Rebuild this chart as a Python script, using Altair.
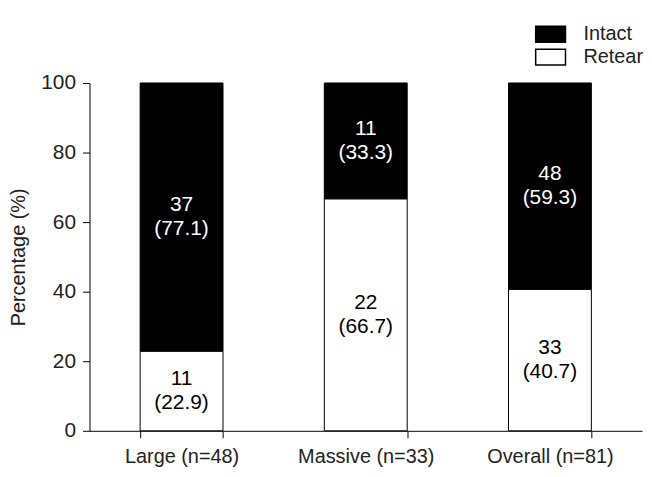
import altair as alt
import pandas as pd

groups = ["Large (n=48)", "Massive (n=33)", "Overall (n=81)"]
intact_n = [37, 11, 48]
intact_pct = [77.1, 33.3, 59.3]
retear_n = [11, 22, 33]
retear_pct = [22.9, 66.7, 40.7]
statuses = ["Intact", "Retear"]

rows = []
for g, n, p in zip(groups, retear_n, retear_pct):
    rows.append({"group": g, "status": "Retear", "order": 0, "n": n, "pct": p})
for g, n, p in zip(groups, intact_n, intact_pct):
    rows.append({"group": g, "status": "Intact", "order": 1, "n": n, "pct": p})
df = pd.DataFrame(rows)
df["label"] = df["n"].astype(str) + "\n(" + df["pct"].map("{:.1f}".format) + ")"

FONT = "Liberation Sans"

base = alt.Chart(df).transform_stack(
    stack="pct", as_=["y0", "y1"], groupby=["group"],
    sort=[alt.SortField("order", order="ascending")]
).transform_calculate(mid="(datum.y0 + datum.y1) / 2")

x_enc = alt.X(
    "group:N", sort=groups, title=None,
    scale=alt.Scale(paddingInner=0.55, paddingOuter=0.275),
    axis=alt.Axis(labelAngle=0, tickBand="extent", tickSize=7, labelFontSize=20,
                  labelPadding=9, domainColor="black", tickColor="black",
                  labelColor="#222", labelFont=FONT),
)

bars = base.mark_bar(stroke="black", strokeWidth=1).encode(
    x=x_enc,
    y=alt.Y("y0:Q", scale=alt.Scale(domain=[0, 100], nice=False),
            axis=alt.Axis(values=[0, 20, 40, 60, 80, 100], tickSize=7, grid=False,
                          labelFontSize=21, labelPadding=7, domainColor="black",
                          tickColor="black", labelColor="#222", labelFont=FONT,
                          title="Percentage (%)", titleFontSize=20,
                          titleFontWeight="normal", titleFont=FONT,
                          titleColor="#222", titlePadding=12)),
    y2="y1:Q",
    fill=alt.Fill("status:N", scale=alt.Scale(domain=statuses, range=["black", "white"]),
                  legend=alt.Legend(title=None, orient="none", legendX=453, legendY=-60,
                                    symbolType="M-1.5,-0.8H1.5V0.8H-1.5Z", symbolSize=400,
                                    symbolStrokeColor="black", symbolStrokeWidth=1.5,
                                    labelFontSize=20, labelFont=FONT, labelColor="#222",
                                    rowPadding=1, labelOffset=22, padding=0)),
)

texts = base.mark_text(fontSize=21, font=FONT, lineBreak="\n", lineHeight=24,
                       baseline="middle", align="center", dy=-12).encode(
    x=alt.X("group:N", sort=groups),
    y=alt.Y("mid:Q"),
    text="label:N",
    color=alt.condition("datum.status == 'Intact'", alt.value("white"), alt.value("black")),
)

chart = (bars + texts).properties(
    width=556, height=350,
    padding={"left": 0, "top": 14, "right": 0, "bottom": 0},
).configure(background="white").configure_view(stroke=None)

chart.save("out.html", embed_options={"renderer": "svg", "actions": False})
